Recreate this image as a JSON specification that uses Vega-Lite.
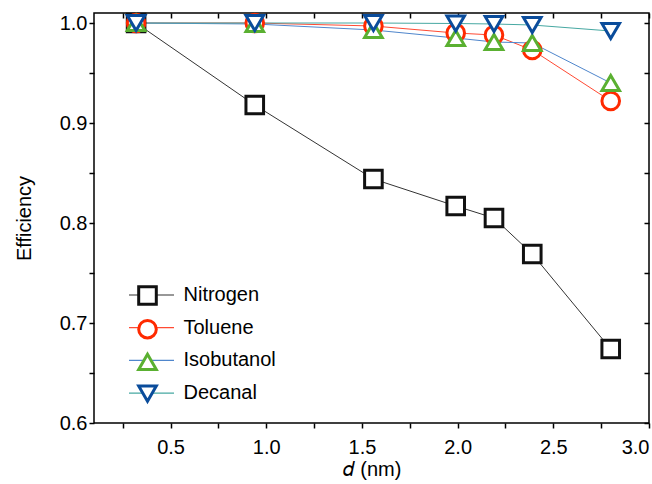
{
  "$schema": "https://vega.github.io/schema/vega-lite/v6.json",
  "width": 555,
  "height": 410,
  "autosize": "none",
  "padding": {"left": 94, "top": 13, "right": 3, "bottom": 61},
  "config": {
    "font": "Liberation Sans",
    "view": {"stroke": "black", "strokeWidth": 1.5},
    "axis": {"domain": false, "grid": false, "tickColor": "black", "tickWidth": 1.5, "labelFont": "Liberation Sans", "labelFontSize": 20, "labelColor": "black", "titleFont": "Liberation Sans", "titleFontSize": 20, "titleFontWeight": "normal", "titleColor": "black", "labelOverlap": false}
  },
  "data": {"values": [
    {"series": "Nitrogen", "d": 0.32, "eff": 1.0},
    {"series": "Nitrogen", "d": 0.94, "eff": 0.918},
    {"series": "Nitrogen", "d": 1.56, "eff": 0.844},
    {"series": "Nitrogen", "d": 1.99, "eff": 0.817},
    {"series": "Nitrogen", "d": 2.19, "eff": 0.805},
    {"series": "Nitrogen", "d": 2.39, "eff": 0.769},
    {"series": "Nitrogen", "d": 2.80, "eff": 0.674},
    {"series": "Toluene", "d": 0.32, "eff": 1.0},
    {"series": "Toluene", "d": 0.94, "eff": 1.0},
    {"series": "Toluene", "d": 1.56, "eff": 0.997},
    {"series": "Toluene", "d": 1.99, "eff": 0.990},
    {"series": "Toluene", "d": 2.19, "eff": 0.988},
    {"series": "Toluene", "d": 2.39, "eff": 0.973},
    {"series": "Toluene", "d": 2.80, "eff": 0.922},
    {"series": "Isobutanol", "d": 0.32, "eff": 1.0},
    {"series": "Isobutanol", "d": 0.94, "eff": 0.999},
    {"series": "Isobutanol", "d": 1.56, "eff": 0.993},
    {"series": "Isobutanol", "d": 1.99, "eff": 0.985},
    {"series": "Isobutanol", "d": 2.19, "eff": 0.981},
    {"series": "Isobutanol", "d": 2.39, "eff": 0.980},
    {"series": "Isobutanol", "d": 2.80, "eff": 0.940},
    {"series": "Decanal", "d": 0.32, "eff": 1.0},
    {"series": "Decanal", "d": 0.94, "eff": 1.0},
    {"series": "Decanal", "d": 1.56, "eff": 1.0},
    {"series": "Decanal", "d": 1.99, "eff": 0.9995},
    {"series": "Decanal", "d": 2.19, "eff": 0.999},
    {"series": "Decanal", "d": 2.39, "eff": 0.998},
    {"series": "Decanal", "d": 2.80, "eff": 0.992}
  ]},
  "layer": [
    {
      "mark": {"type": "line", "strokeWidth": 1},
      "encoding": {
        "x": {"field": "d", "type": "quantitative", "scale": {"domain": [0.1, 3.0], "nice": false, "zero": false},
          "axis": {"orient": "bottom", "title": "𝑑 (nm)", "values": [0.25, 0.5, 0.75, 1.0, 1.25, 1.5, 1.75, 2.0, 2.25, 2.5, 2.75, 3.0],
            "labelExpr": "abs(datum.value*2 - round(datum.value*2)) < 0.001 ? format(datum.value, '.1f') : ''",
            "tickSize": 5, "labelPadding": 9, "titlePadding": 2,
            "encode": {"ticks": {"update": {"y2": {"signal": "abs(datum.value*2 - round(datum.value*2)) < 0.001 ? -9 : -4"}}}}}},
        "y": {"field": "eff", "type": "quantitative", "scale": {"domain": [0.6, 1.01], "nice": false, "zero": false},
          "axis": {"orient": "left", "title": "Efficiency", "values": [0.6, 0.65, 0.7, 0.75, 0.8, 0.85, 0.9, 0.95, 1.0],
            "labelExpr": "abs(datum.value*10 - round(datum.value*10)) < 0.001 ? format(datum.value, '.1f') : ''",
            "tickSize": 5, "labelPadding": 2, "titlePadding": 25,
            "encode": {"ticks": {"update": {"x2": {"signal": "abs(datum.value*10 - round(datum.value*10)) < 0.001 ? 9 : 5"}}}}}},
        "stroke": {"field": "series", "type": "nominal",
          "scale": {"domain": ["Nitrogen", "Toluene", "Isobutanol", "Decanal"], "range": ["#333333", "#ff4a33", "#4f86cc", "#46a8a2"]},
          "legend": {"orient": "none", "legendX": 47.5, "legendY": 272, "title": null, "symbolType": "M-4.5,0H4.5", "symbolSize": 100, "symbolStrokeWidth": 1.2, "labelFontSize": 20, "labelFont": "Liberation Sans", "labelColor": "black", "rowPadding": 12.7, "labelOffset": 22, "padding": 0}}
      }
    },
    {
      "mark": {"type": "point", "filled": false, "fill": "white", "fillOpacity": 1, "opacity": 1, "strokeWidth": 3},
      "encoding": {
        "x": {"field": "d", "type": "quantitative",
          "axis": {"orient": "top", "title": null, "labels": false, "values": [0.25, 0.5, 0.75, 1.0, 1.25, 1.5, 1.75, 2.0, 2.25, 2.5, 2.75, 3.0], "tickSize": -5}},
        "y": {"field": "eff", "type": "quantitative",
          "axis": {"orient": "right", "title": null, "labels": false, "values": [0.6, 0.65, 0.7, 0.75, 0.8, 0.85, 0.9, 0.95, 1.0], "tickSize": -5}},
        "color": {"field": "series", "type": "nominal",
          "scale": {"domain": ["Decanal", "Isobutanol", "Nitrogen", "Toluene"], "range": ["#0a4c9b", "#5ab031", "#111111", "#ff2a00"]},
          "legend": {"orient": "none", "legendX": 43, "legendY": 272, "title": null, "values": ["Nitrogen", "Toluene", "Isobutanol", "Decanal"], "symbolSize": 260, "symbolStrokeWidth": 3, "symbolFillColor": "white", "labelExpr": "''", "labelOpacity": 0, "labelFontSize": 20, "rowPadding": 2.7, "padding": 0}},
        "shape": {"field": "series", "type": "nominal",
          "scale": {"domain": ["Decanal", "Isobutanol", "Nitrogen", "Toluene"], "range": ["triangle-down", "triangle-up", "square", "circle"]},
          "legend": {"orient": "none", "legendX": 43, "legendY": 272, "title": null, "values": ["Nitrogen", "Toluene", "Isobutanol", "Decanal"], "symbolSize": 260, "symbolStrokeWidth": 3, "symbolFillColor": "white", "labelExpr": "''", "labelOpacity": 0, "labelFontSize": 20, "rowPadding": 2.7, "padding": 0}},
        "size": {"field": "series", "type": "nominal",
          "scale": {"domain": ["Decanal", "Isobutanol", "Nitrogen", "Toluene"], "range": [310, 310, 220, 280]},
          "legend": null}
      }
    }
  ],
  "resolve": {"axis": {"x": "independent", "y": "independent"}}
}
